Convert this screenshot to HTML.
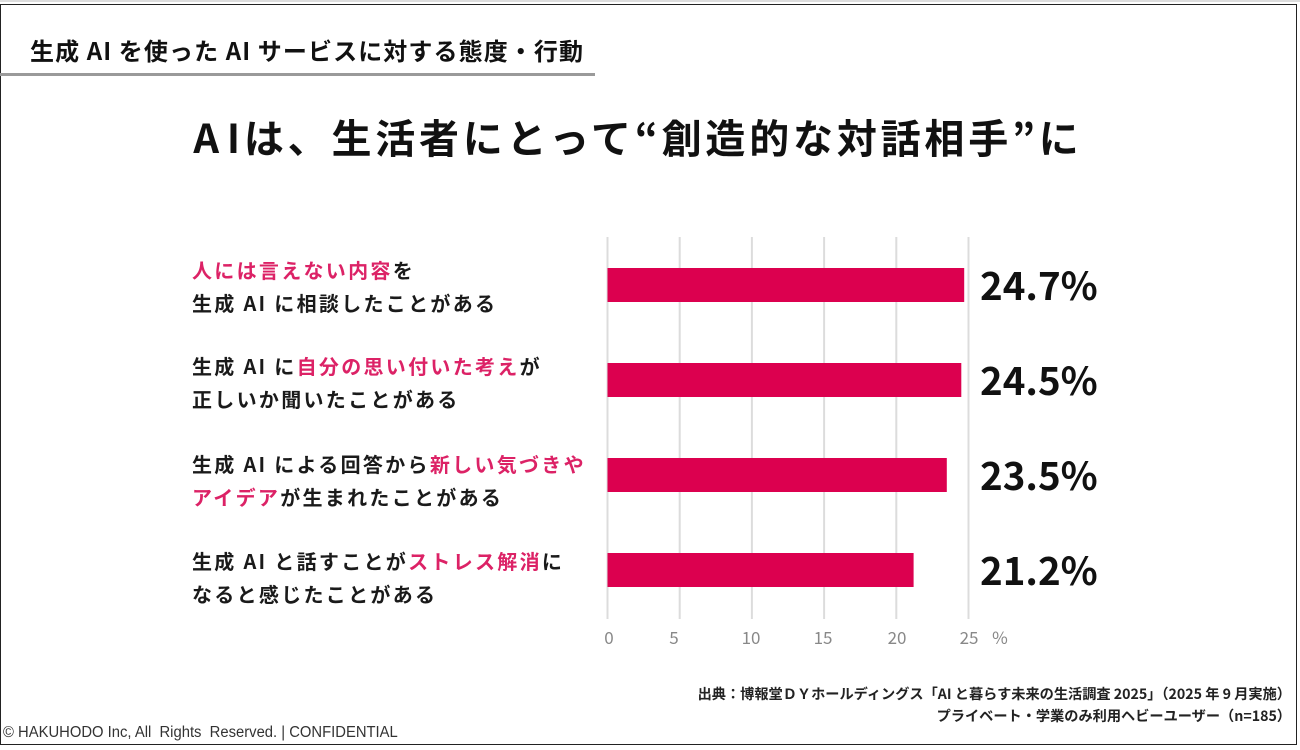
<!DOCTYPE html>
<html><head><meta charset="utf-8">
<style>
html,body{margin:0;padding:0;background:#fff;}
body{width:1300px;height:750px;position:relative;overflow:hidden;font-family:"Liberation Sans","Noto Sans CJK JP",sans-serif;color:#111;}
.frame{position:absolute;left:0;top:4px;width:1297px;height:741px;border:1.5px solid #222;box-sizing:border-box;}
.topline{position:absolute;left:0;top:0;width:1300px;height:2px;background:#ddd;}
.hdr{position:absolute;left:30px;top:35px;font-size:24px;font-weight:bold;white-space:nowrap;font-family:"Noto Sans CJK JP",sans-serif;letter-spacing:1.1px;line-height:30px;}
.uline{position:absolute;left:0;top:73px;width:595px;height:3px;background:#9a9a9a;}
.title{position:absolute;left:0;width:1276px;top:108px;text-align:center;font-size:40px;font-weight:bold;letter-spacing:3.8px;white-space:nowrap;font-family:"Noto Sans CJK JP",sans-serif;line-height:56px;}
.lab{position:absolute;left:192px;font-size:20px;font-weight:bold;letter-spacing:2.3px;line-height:33px;white-space:nowrap;font-family:"Noto Sans CJK JP",sans-serif;color:#1a1a1a;}
.p{color:#dc2266;}
.val{position:absolute;left:980px;font-size:38.5px;font-weight:bold;white-space:nowrap;font-family:"Noto Sans CJK JP",sans-serif;line-height:40px;color:#111;}
.src{position:absolute;right:9px;font-size:14.2px;font-weight:bold;white-space:nowrap;text-align:right;font-family:"Noto Sans CJK JP",sans-serif;color:#222;line-height:20px;}
.copy{position:absolute;left:3px;top:723px;font-size:15.5px;white-space:nowrap;color:#333;font-family:"Liberation Sans",sans-serif;line-height:20px;transform:scaleX(0.955);transform-origin:0 0;}
</style></head><body>
<div class="topline"></div>
<div class="frame"></div>
<div class="hdr">生成 AI を使った AI サービスに対する態度・行動</div>
<div class="uline"></div>
<div class="title">A<span style="margin-left:4px">I</span>は、生活者にとって“創造的な対話相手”に</div>

<svg style="position:absolute;left:0;top:0" width="1300" height="750">
  <g stroke="#dcdcdc" stroke-width="2">
    <line x1="607.5" y1="237" x2="607.5" y2="619"/>
    <line x1="679.7" y1="237" x2="679.7" y2="619"/>
    <line x1="751.9" y1="237" x2="751.9" y2="619"/>
    <line x1="824.1" y1="237" x2="824.1" y2="619"/>
    <line x1="896.3" y1="237" x2="896.3" y2="619"/>
    <line x1="968.5" y1="237" x2="968.5" y2="619"/>
  </g>
  <g fill="#dc004f">
    <rect x="607.5" y="268" width="356.7" height="34"/>
    <rect x="607.5" y="363" width="353.8" height="34"/>
    <rect x="607.5" y="458" width="339.3" height="34"/>
    <rect x="607.5" y="553" width="306.1" height="34"/>
  </g>
  <g font-family="Noto Sans CJK JP, sans-serif" font-size="17" fill="#888" text-anchor="middle">
    <text x="609" y="644">0</text>
    <text x="674" y="644">5</text>
    <text x="751" y="644">10</text>
    <text x="823" y="644">15</text>
    <text x="897" y="644">20</text>
    <text x="969" y="644">25</text>
    <text x="1000" y="644">%</text>
  </g>
</svg>

<div class="lab" style="top:253px"><span class="p">人には言えない内容</span>を<br>生成 AI に相談したことがある</div>
<div class="lab" style="top:349px">生成 AI に<span class="p">自分の思い付いた考え</span>が<br>正しいか聞いたことがある</div>
<div class="lab" style="top:447px">生成 AI による回答から<span class="p">新しい気づきや</span><br><span class="p">アイデア</span>が生まれたことがある</div>
<div class="lab" style="top:544px">生成 AI と話すことが<span class="p">ストレス解消</span>に<br>なると感じたことがある</div>

<div class="val" style="top:264px">24.7%</div>
<div class="val" style="top:359px">24.5%</div>
<div class="val" style="top:454px">23.5%</div>
<div class="val" style="top:549px">21.2%</div>

<div class="src" style="top:684px">出典：博報堂ＤＹホールディングス「AI と暮らす未来の生活調査 2025」（2025 年 9 月実施）</div>
<div class="src" style="top:706px">プライベート・学業のみ利用ヘビーユーザー（n=185）</div>
<div class="copy">© HAKUHODO Inc, All&nbsp; Rights&nbsp; Reserved. | CONFIDENTIAL</div>
</body></html>
